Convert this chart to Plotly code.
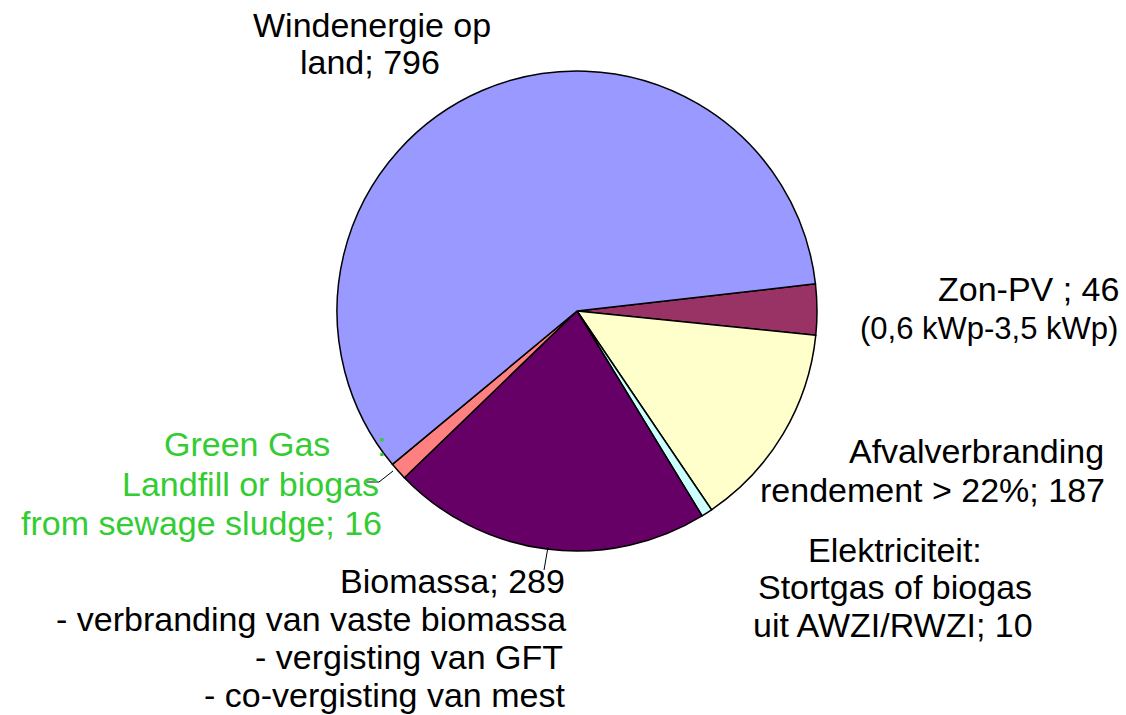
import plotly.graph_objects as go

labels = ["Zon-PV", "Afvalverbranding", "Elektriciteit: Stortgas of biogas",
          "Biomassa", "Green Gas", "Windenergie op land"]
values = [46, 187, 10, 289, 16, 796]
colors = ["#993366", "#FFFFCC", "#CCFFFF", "#660066", "#FF8080", "#9999FF"]

W, H = 1126, 715


def px(x):
    return x / W


def py(y):
    return 1 - y / H


cx, cy, r = 577, 311, 240

fig = go.Figure(go.Pie(
    labels=labels, values=values, sort=False, direction="clockwise",
    rotation=83.5, textinfo="none", hoverinfo="label+value",
    marker=dict(colors=colors, line=dict(color="black", width=1.5)),
    domain=dict(x=[px(cx - r), px(cx + r)], y=[py(cy + r), py(cy - r)]),
    showlegend=False,
))

FONT = "Liberation Sans, Arial, sans-serif"
BIG, SMALL = 34, 31
GREEN = "#33CC33"

# (text, x, y, xanchor, size, color)
lines = [
    ("Windenergie op", 372, 25, "center", BIG, "black"),
    ("land; 796", 370, 62, "center", BIG, "black"),
    ("Zon-PV ; 46", 1120, 289, "right", BIG, "black"),
    ("(0,6 kWp-3,5 kWp)", 1119, 329, "right", SMALL, "black"),
    ("Afvalverbranding", 1105, 451, "right", BIG, "black"),
    ("rendement &gt; 22%; 187", 1106, 490, "right", BIG, "black"),
    ("Elektriciteit:", 895, 550, "center", BIG, "black"),
    ("Stortgas of biogas", 895, 587, "center", BIG, "black"),
    ("uit AWZI/RWZI; 10", 893, 625, "center", BIG, "black"),
    ("Biomassa; 289", 566, 581, "right", BIG, "black"),
    ("- verbranding van vaste biomassa", 567, 619, "right", BIG, "black"),
    ("- vergisting van GFT", 564, 657, "right", BIG, "black"),
    ("- co-vergisting van mest", 566, 695, "right", BIG, "black"),
    ("Green Gas", 331, 444, "right", BIG, GREEN),
    (":", 387, 444, "right", BIG, GREEN),
    ("Landfill or biogas", 380, 484, "right", BIG, GREEN),
    ("from sewage sludge; 16", 383, 523, "right", BIG, GREEN),
]

ann = []
for t, x, y, xa, s, c in lines:
    ann.append(dict(text=t, x=px(x), y=py(y), xref="paper", yref="paper",
                    xanchor=xa, yanchor="middle", showarrow=False, borderpad=0,
                    font=dict(size=s, color=c, family=FONT)))

shapes = [
    dict(type="path", path=f"M {px(393)},{py(471)} L {px(379)},{py(482)} L {px(367)},{py(482)}",
         xref="paper", yref="paper", line=dict(color="black", width=1)),
    dict(type="line", x0=px(548), y0=py(547), x1=px(544), y1=py(570),
         xref="paper", yref="paper", line=dict(color="black", width=1)),
]

fig.update_layout(
    width=W, height=H, margin=dict(l=0, r=0, t=0, b=0),
    paper_bgcolor="white", plot_bgcolor="white",
    font=dict(family=FONT, size=BIG, color="black"),
    annotations=ann, shapes=shapes,
)

fig.write_html(
    "out.html",
    config={"displayModeBar": False},
    post_script="document.body.style.margin='0px';document.body.style.overflow='hidden';",
)
